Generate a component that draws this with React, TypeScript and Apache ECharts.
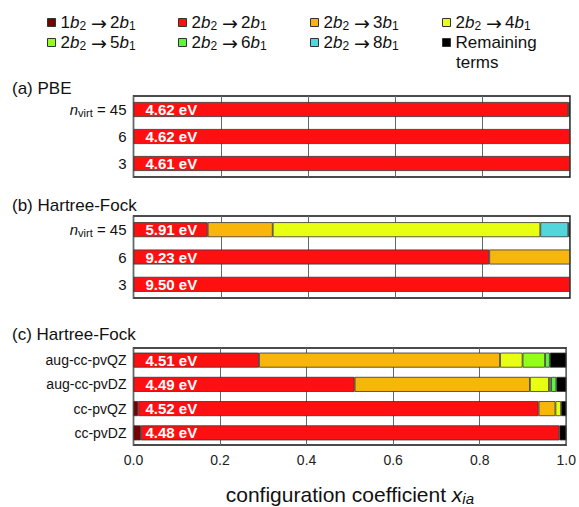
import React, { useEffect, useRef } from "react";
import * as echarts from "echarts";

const FONT = '"Liberation Sans", Arial, Helvetica, sans-serif';
const ARROW_FONT = '"DejaVu Sans", sans-serif';

// Excitation components, in stacking order
const transitions = [
  "1b2 → 2b1",
  "2b2 → 2b1",
  "2b2 → 3b1",
  "2b2 → 4b1",
  "2b2 → 5b1",
  "2b2 → 6b1",
  "2b2 → 8b1",
  "Remaining terms",
];
const transitionColors = [
  "#7a0000",
  "#ff1010",
  "#f8b60a",
  "#e9ff12",
  "#93ff14",
  "#62f43c",
  "#52d6dc",
  "#000000",
];

// (a) PBE
const pbeRows = ["n_virt = 45", "6", "3"];
const pbeEnergies = ["4.62 eV", "4.62 eV", "4.61 eV"];
const pbeWeights = [
  [0, 0.996, 0, 0, 0, 0, 0, 0.004],
  [0, 1.0, 0, 0, 0, 0, 0, 0],
  [0, 1.0, 0, 0, 0, 0, 0, 0],
];

// (b) Hartree-Fock, varying number of virtual orbitals
const hfRows = ["n_virt = 45", "6", "3"];
const hfEnergies = ["5.91 eV", "9.23 eV", "9.50 eV"];
const hfWeights = [
  [0, 0.17, 0.149, 0.613, 0, 0, 0.064, 0.004],
  [0, 0.815, 0.185, 0, 0, 0, 0, 0],
  [0, 1.0, 0, 0, 0, 0, 0, 0],
];

// (c) Hartree-Fock, varying basis set
const basisRows = ["aug-cc-pvQZ", "aug-cc-pvDZ", "cc-pvQZ", "cc-pvDZ"];
const basisEnergies = ["4.51 eV", "4.49 eV", "4.52 eV", "4.48 eV"];
const basisWeights = [
  [0, 0.29, 0.557, 0.052, 0.052, 0.011, 0, 0.038],
  [0, 0.511, 0.405, 0.044, 0.005, 0.012, 0, 0.023],
  [0.011, 0.925, 0.039, 0.013, 0, 0, 0, 0.012],
  [0.017, 0.967, 0, 0, 0, 0, 0, 0.016],
];

const xTicks = [0, 0.2, 0.4, 0.6, 0.8, 1.0];
const panelTitles = ["(a) PBE", "(b) Hartree-Fock", "(c) Hartree-Fock"];

const panels = [
  { rows: pbeRows, energies: pbeEnergies, weights: pbeWeights, top: 96, height: 81, titleY: 88.5, labelSize: 15 },
  { rows: hfRows, energies: hfEnergies, weights: hfWeights, top: 216, height: 82, titleY: 205, labelSize: 15 },
  { rows: basisRows, energies: basisEnergies, weights: basisWeights, top: 348, height: 108, titleY: 334, labelSize: 14 },
];

const legendCols = [47, 178, 310, 442];
const legendRows = [13, 33];

const richLegend = {
  t: { fontSize: 17, fontFamily: FONT, color: "#111" },
  i: { fontSize: 17, fontFamily: FONT, fontStyle: "italic", color: "#111" },
  s: { fontSize: 12, fontFamily: FONT, color: "#111", padding: [7, 0, 0, 0] },
  a: { fontSize: 19, fontFamily: ARROW_FONT, color: "#111", padding: [0, 3, 0, 5] },
};

function transitionLabel(name: string) {
  if (name === "Remaining terms") return "Remaining";
  return name.replace(/(\d)b(\d)/g, "{t|$1}{i|b}{s|$2}").replace(" → ", "{a|→}");
}

function rowLabel(v: string) {
  const m = v.match(/^n_virt = (.*)$/);
  if (m) return "{n|n}{v|virt}{t| = " + m[1] + "}";
  return "{t|" + v + "}";
}

function buildOption() {
  const grid: any[] = [];
  const xAxis: any[] = [];
  const yAxis: any[] = [];
  const series: any[] = [];

  panels.forEach((p, pi) => {
    grid.push({
      left: 133.5,
      right: 9,
      top: p.top,
      height: p.height,
      show: true,
      borderColor: "#111",
      borderWidth: 1.5,
      backgroundColor: "#fff",
    });
    const last = pi === panels.length - 1;
    xAxis.push({
      type: "value",
      gridIndex: pi,
      min: 0,
      max: 1,
      interval: 0.2,
      axisLine: { show: false },
      axisTick: { show: false },
      splitLine: { show: true, lineStyle: { color: "#5f6b6b", width: 1 } },
      axisLabel: {
        show: last,
        fontSize: 14,
        fontFamily: FONT,
        color: "#222",
        margin: 8,
        formatter: (v: number) => (xTicks.includes(v) ? v.toFixed(1) : ""),
      },
      name: last ? "{t|configuration coefficient }{i|x}{s|ia}" : "",
      nameLocation: "middle",
      nameGap: 37,
      nameTextStyle: {
        rich: {
          t: { fontSize: 21, fontFamily: FONT, color: "#111" },
          i: { fontSize: 21, fontFamily: FONT, fontStyle: "italic", color: "#111" },
          s: { fontSize: 15, fontFamily: FONT, fontStyle: "italic", color: "#111", padding: [9, 0, 0, 0] },
        },
      },
    });
    const ls = p.labelSize;
    yAxis.push({
      type: "category",
      gridIndex: pi,
      inverse: true,
      data: p.rows,
      axisLine: { show: false },
      axisTick: { show: false },
      splitLine: { show: false },
      axisLabel: {
        margin: 7,
        formatter: rowLabel,
        rich: {
          t: { fontSize: ls, fontFamily: FONT, color: "#111" },
          n: { fontSize: ls, fontFamily: FONT, fontStyle: "italic", color: "#111" },
          v: { fontSize: ls - 4, fontFamily: FONT, color: "#111", padding: [6, 0, 0, 0] },
        },
      },
    });

    transitions.forEach((name, k) => {
      series.push({
        type: "bar",
        name,
        xAxisIndex: pi,
        yAxisIndex: pi,
        stack: "panel" + pi,
        barWidth: 15,
        barGap: "-100%",
        itemStyle: { color: transitionColors[k], borderColor: "#333", borderWidth: 0.8 },
        emphasis: { disabled: true },
        data: p.weights.map((w) => (w[k] > 0 ? w[k] : "-")),
      });
    });

    // excitation energy written inside each bar
    series.push({
      type: "bar",
      name: "energy",
      xAxisIndex: pi,
      yAxisIndex: pi,
      barWidth: 15,
      barGap: "-100%",
      silent: true,
      itemStyle: { color: "rgba(0,0,0,0)", borderWidth: 0 },
      label: {
        show: true,
        position: "insideLeft",
        distance: 12,
        color: "#fff",
        fontWeight: "bold",
        fontSize: 15,
        fontFamily: FONT,
        formatter: (params: any) => p.energies[params.dataIndex],
      },
      data: p.rows.map(() => 1),
    });
  });

  const legend = transitions.map((name, i) => {
    const remaining = name === "Remaining terms";
    return {
      data: [name],
      left: legendCols[i % 4],
      top: legendRows[Math.floor(i / 4)] + (remaining ? 1 : 0),
      padding: 0,
      icon: "rect",
      itemWidth: 8,
      itemHeight: 8,
      selectedMode: false,
      itemStyle: { borderColor: "#333", borderWidth: 1 },
      formatter: transitionLabel,
      textStyle: remaining
        ? { fontSize: 17, fontFamily: FONT, color: "#111" }
        : { fontSize: 17, fontFamily: FONT, color: "#111", rich: richLegend },
    };
  });

  const graphic: any[] = panels.map((p, pi) => ({
    type: "text",
    x: 12,
    y: p.titleY,
    style: {
      text: panelTitles[pi],
      fontSize: 17,
      fontFamily: FONT,
      fill: "#111",
      verticalAlign: "middle",
    },
  }));
  // second line of the "Remaining terms" legend entry
  graphic.push({
    type: "text",
    x: 456,
    y: 62,
    style: { text: "terms", fontSize: 17, fontFamily: FONT, fill: "#111", verticalAlign: "middle" },
  });

  return {
    animation: false,
    backgroundColor: "#fff",
    grid,
    xAxis,
    yAxis,
    series,
    legend,
    graphic,
  };
}

export default function App() {
  const ref = useRef<HTMLDivElement>(null);
  useEffect(() => {
    const chart = echarts.init(ref.current!, null, { renderer: "svg" });
    chart.setOption(buildOption() as any);
    return () => chart.dispose();
  }, []);
  return (
    <div
      ref={ref}
      style={{ position: "absolute", left: 0, top: 0, width: 579, height: 507, background: "#fff" }}
    />
  );
}
